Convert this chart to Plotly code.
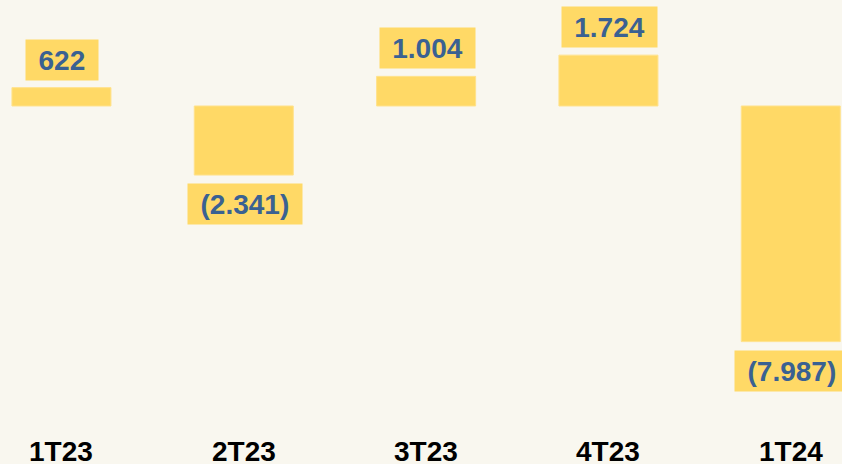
import plotly.graph_objects as go

categories = ["1T23", "2T23", "3T23", "4T23", "1T24"]
values = [622, -2341, 1004, 1724, -7987]
value_labels = ["622", "(2.341)", "1.004", "1.724", "(7.987)"]

BAR = "#FFD966"
TXT = "#3A6192"

fig = go.Figure()
fig.add_trace(go.Bar(
    x=categories, y=values, width=0.543,
    marker=dict(color=BAR, line=dict(color="#FFE28C", width=1)),
    hoverinfo="skip",
))

def text_w(s, fs):
    w = 0
    for ch in s:
        if ch.isdigit():
            w += 0.556
        elif ch in "()":
            w += 0.333
        else:
            w += 0.278
    return w * fs

for c, v, lab in zip(categories, values, value_labels):
    fig.add_annotation(
        x=c, y=v, xref="x", yref="y", text="<b>" + lab + "</b>",
        showarrow=False,
        yanchor="bottom" if v >= 0 else "top",
        yshift=7 if v >= 0 else -8,
        xshift=1,
        font=dict(family="Liberation Sans, Arial", size=28, color=TXT),
        bgcolor=BAR, borderpad=3,
        width=text_w(lab, 28) + 19, height=34,
    )

for c in categories:
    fig.add_annotation(
        x=c, y=0, xref="x", yref="paper", text="<b>" + c + "</b>",
        showarrow=False, yanchor="top", yshift=30,
        font=dict(family="Liberation Sans, Arial", size=28, color="#000000"),
    )

fig.update_layout(
    width=842, height=464,
    margin=dict(l=0, r=0, t=0, b=0),
    paper_bgcolor="#F9F7EF", plot_bgcolor="#F9F7EF",
    showlegend=False,
    xaxis=dict(range=[-0.337, 4.281], showticklabels=False, showgrid=False,
               zeroline=False, showline=False, fixedrange=True),
    yaxis=dict(range=[-12136, 3593], showticklabels=False, showgrid=False,
               zeroline=False, showline=False, fixedrange=True),
)

fig.write_html(
    "out.html",
    config={"displayModeBar": False},
    post_script="document.body.style.margin='0';document.body.style.background='#F9F7EF';",
)
